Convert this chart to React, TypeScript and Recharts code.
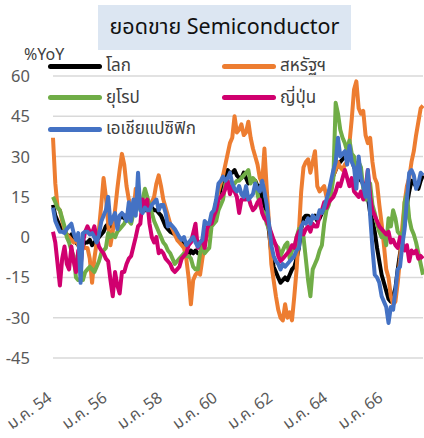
import React from 'react';
import { LineChart, Line, XAxis, YAxis, CartesianGrid, Legend } from 'recharts';

// เดือนแบบย่อ (พ.ศ.)
const thaiMonths = ['ม.ค.', 'ก.พ.', 'มี.ค.', 'เม.ย.', 'พ.ค.', 'มิ.ย.', 'ก.ค.', 'ส.ค.', 'ก.ย.', 'ต.ค.', 'พ.ย.', 'ธ.ค.'];
const years = [54, 55, 56, 57, 58, 59, 60, 61, 62, 63, 64, 65, 66, 67];
const months = years.flatMap(y => thaiMonths.map(m => `${m} ${y}`)).slice(0, 162);

const yTicks = [-45, -30, -15, 0, 15, 30, 45, 60];

// %YoY, monthly from ม.ค. 54
const world = [
  12, 8, 6, 4, 3, 2, 1, 0, 1, -1, -2, -3,
  -4, -3, -2, -2, -1, -3, -2, -1, 0, 1, 2, 4,
  5, 4, 5, 5, 6, 7, 8, 7, 8, 9, 9, 10,
  11, 12, 11, 11, 10, 10, 11, 11, 10, 10, 9, 8,
  6, 4, 3, 2, 1.5, 1, 0, -1, -2, -3, -4, -7,
  -5, -6, -5, -6, -6, -4, -2, 1, 4, 6, 9, 13,
  15, 18, 21, 23, 25, 24, 24, 25, 23, 22, 22, 24,
  22, 20, 21, 21, 21, 19, 19, 14, 12, 9, 2, -6,
  -11, -13, -15, -17, -16, -15, -16, -14, -12, -11, -8, -4,
  3, 7, 8, 8, 7, 7, 8, 6, 7, 9, 10, 13,
  16, 19, 23, 25, 27, 28, 29, 30, 30, 30, 29, 26,
  25, 23, 21, 20, 17, 15, 9, 6, 2, -4, -9, -14,
  -17, -20, -23, -24, -22, -19, -12, -6, -1, 5, 12, 17,
  21, 20, 19, 18, 21, 23,
];

const usa = [
  37, 20, 11, 10, 6, 3, 1, 0, -1, -2, -1, -3,
  -2, -3, -4, -4, -8, -17, -8, -2, 3, 12, 22, 15,
  5, -3, 2, 10, 18, 25, 31, 27, 19, 14, 11, 9,
  18, 14, 12, 13, 12, 14, 12, 13, 15, 20, 23, 19,
  14, 11, 8, 5, 3, 1, -1, -2, -3, -4, -8, -15,
  -25, -16, -14, -13, -14, -8, -3, 1, 4, 6, 7, 10,
  17, 20, 23, 27, 31, 35, 37, 45, 39, 40, 42, 38,
  39, 43, 37, 33, 30, 27, 22, 20, 33, 18, 5, -10,
  -16, -22, -27, -30, -31, -25, -30, -28, -31, -22, -12, 2,
  17, 26, 28, 29, 24, 28, 32, 19, 17, 18, 19, 15,
  16, 20, 23, 25, 28, 26, 25, 27, 28, 35, 44, 55,
  58, 48, 46, 47, 38, 35, 37, 28, 22, 20, 12, 5,
  -3, -12, -15, -22, -25, -24, -17, -8, 4, 13, 19, 22,
  28, 32, 38, 43, 48, 49,
];

const europe = [
  15, 13, 11, 10, 7, 4, 0, -2, -5, -7, -15, -16,
  -16, -16, -13, -12, -11, -12, -13, -11, -9, -6, -5, -4,
  1.5, 0, 1, 0, 2, 3, 4, 5, 7, 6, 5, 9,
  10, 11, 13, 14, 18, 15, 12, 9, 6, 4, 2, 0,
  -2, -3, -5, -6, -8, -10, -9, -8, -7, -6, -7, -7,
  -8, -11, -12, -12, -6, -2, -6, -5, -4, 4, 5, 6,
  10, 12, 14, 20, 21, 19, 19, 20, 21, 21, 22, 23,
  24, 25, 20, 22, 21, 16, 12, 10, 9, 5, 3, 1,
  -2, -3, -4, -7, -5, -3, -2, -8, -5, -4, 0, 3,
  3, 0, -8, -16, -22, -12, -10, -8, -5, -3, 5, 10,
  12, 16, 22, 50, 46, 40, 37, 35, 32, 36, 31, 30,
  24, 28, 26, 18, 14, 14, 20, 12, 9, 5, 2, 0,
  1, -3, 7, 4, 10, 7, 2, 1, -2, 13, 16, 7,
  3, 1, -2, -6, -10, -14,
];

const japan = [
  2, -2, -10, -18, -8, -3.5, -10, -12, -3.5, -9, -13, -5,
  -11, -2, 2, 4, 2, 1.5, 4, 0, -3.5, -5, -6, -8,
  -9, -16, -22, -13, -18, -21, -13, -13, -10, -8, -7, -3.5,
  0, 4, 5, 14, 12, 14, 5, 0, -2, 0, -6, -5,
  -6, -8, -9, -10, -12, -13, -12, -11, -8, -7, -6, -3,
  -2, 1.5, 5, -4, -2, -1, -4, 3, 5, 5, 8, 10,
  14, 15, 16, 18, 21, 16, 19, 17, 15, 9, 14, 14,
  14, 15, 12, 10, 11, 13, 14, 9, 7, 6, 4, 1.5,
  -1, -3, -7, -9, -8, -7, -6, -5, -3, -4, 0, 2,
  3, 1, 3, 4, 2, 5, 4, 4, 8, 10, 13, 11,
  13, 14, 15, 17, 20, 19, 22, 25, 22, 19, 22, 17,
  16, 15, 17, 14, 18, 25, 15, 10, 8, 6, 4, 3,
  2, 1, 2, -2, -1, -3, -4, 0, -2, -5, -3, -9,
  -5, -6, -5, -8, -7, -8,
];

const asiaPac = [
  11, 6, 4, 2, 2, 1.5, 3, 4, 5, 1.5, -1, 1.5,
  -17, 1.5, 2, 2, 1, 1.5, 0, -2, 1, 5.8, 8, 10,
  15, 5, 7, 9, 3, 8, 9, 8, 6, 13, 6, 14,
  8, 24, 10, 9, 11, 10, 10, 12, 13, 14, 10, 12,
  12, 9, 4, 5, 4, 3, 1.5, 0, -1, 0, -3, -2,
  -1, 0, -2, -3.5, -2, -1, 6, 5, 5, 9, 10, 14,
  20, 21, 22.5, 21, 22, 24, 20, 18, 17, 19, 16, 15,
  19, 14, 15, 16, 20, 18, 17, 21, 17, 12, 5, -3,
  -7, -9, -10, -12, -10, -11, -10, -9, -8, -7, -5, -4,
  4, 5.5, 5, 7, 5, 8, 7, 7, 10, 9, 11, 14,
  17, 21, 25, 28, 37, 30, 31, 32, 27, 34, 28, 26,
  18, 30, 22, 19, 15, 25, 8, -4, -14, -15, -17, -22,
  -24, -26, -32, -26, -27, -20, -12, -11, -3, 3, 14, 24,
  25, 23, 18, 20, 24, 23,
];

const series = [
  { key: 'world', name: 'โลก', color: '#000000' },
  { key: 'usa', name: 'สหรัฐฯ', color: '#ED7D31' },
  { key: 'europe', name: 'ยุโรป', color: '#70AD47' },
  { key: 'japan', name: 'ญี่ปุ่น', color: '#D0006F' },
  { key: 'asiaPac', name: 'เอเชียแปซิฟิก', color: '#4472C4' },
];

const data = months.map((month, i) => ({
  month,
  world: world[i],
  usa: usa[i],
  europe: europe[i],
  japan: japan[i],
  asiaPac: asiaPac[i],
}));

const FONT = '"Noto Sans Thai", "Leelawadee UI", Tahoma, "Noto Sans", sans-serif';

const XTick = ({ x, y, payload }: any) => {
  const tx = x;
  const ty = y + 40;
  return (
    <text
      x={tx}
      y={ty}
      transform={`rotate(-36 ${tx} ${ty})`}
      textAnchor="end"
      fontSize={16}
      fill="#595959"
      fontFamily={FONT}
    >
      {payload.value}
    </text>
  );
};

const YTick = ({ x, y, payload }: any) => (
  <text x={x} y={y} dy={6} textAnchor="end" fontSize={16.5} fill="#595959" fontFamily={FONT}>
    {payload.value}
  </text>
);

const LegendBox = () => (
  <div style={{ position: 'relative', width: 424, height: 150 }}>
    {series.map((s, i) => {
      const col = i % 2;
      const row = Math.floor(i / 2);
      const left = col ? 222 : 48;
      const cy = 66 + row * 31.5;
      return (
        <div key={s.key} style={{ position: 'absolute', left, top: cy - 12, height: 24, display: 'flex', alignItems: 'center' }}>
          <div style={{ width: 54, height: 5, borderRadius: 3, background: s.color }} />
          <span style={{ marginLeft: 4, fontSize: 17, color: '#404040', fontFamily: FONT, lineHeight: '24px' }}>{s.name}</span>
        </div>
      );
    })}
  </div>
);

export default function App() {
  return (
    <div style={{ position: 'relative', width: 424, height: 438, background: '#fff', overflow: 'hidden', fontFamily: FONT }}>
      <style>{'body{margin:0}'}</style>
      <div
        style={{
          position: 'absolute', left: 98, top: 5, width: 253, height: 45, background: '#DCE6F2',
          display: 'flex', alignItems: 'center', justifyContent: 'center', fontSize: 21.5, color: '#111',
        }}
      >
        ยอดขาย Semiconductor
      </div>
      <div style={{ position: 'absolute', left: 24, top: 43, fontSize: 16, color: '#404040' }}>%YoY</div>
      <LineChart width={424} height={438} data={data} margin={{ top: 76, right: 1, bottom: 20, left: 0 }}>
        <CartesianGrid vertical={false} stroke="#D9D9D9" strokeWidth={1.5} />
        <XAxis dataKey="month" interval={23} height={60} axisLine={false} tickLine={false} tickSize={0} tick={<XTick />} />
        <YAxis
          domain={[-45, 60]}
          ticks={yTicks}
          width={53}
          axisLine={false}
          tickLine={false}
          tickSize={0}
          tickMargin={23}
          tick={<YTick />}
        />
        <Legend
          layout="horizontal"
          verticalAlign="middle"
          align="center"
          content={<LegendBox />}
          wrapperStyle={{ top: 0, left: 0, width: 424 }}
        />
        {series.map(s => (
          <Line
            key={s.key}
            type="linear"
            dataKey={s.key}
            name={s.name}
            stroke={s.color}
            strokeWidth={4}
            strokeLinejoin="round"
            dot={false}
            isAnimationActive={false}
          />
        ))}
      </LineChart>
    </div>
  );
}
